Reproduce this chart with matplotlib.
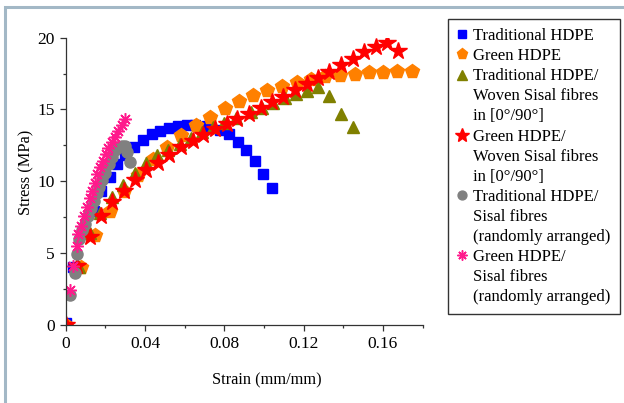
import matplotlib
matplotlib.use('Agg')
import matplotlib.pyplot as plt
from matplotlib.lines import Line2D
from matplotlib.patches import Rectangle
from matplotlib.ticker import MultipleLocator

plt.rcParams['font.family'] = ['Liberation Serif', 'DejaVu Serif']

# Traditional HDPE
trad_x = [0, 0.0035, 0.0143, 0.018, 0.0223, 0.026, 0.030, 0.0346, 0.0388, 0.0434, 0.0476, 0.0522,
          0.0565, 0.061, 0.0652, 0.0711, 0.0778, 0.0825, 0.0867, 0.0909, 0.0955, 0.0996, 0.1042]
trad_y = [0.1, 4.0, 7.9, 9.3, 10.3, 11.2, 11.8, 12.4, 12.88, 13.27, 13.52, 13.73,
          13.85, 13.9, 13.9, 13.85, 13.57, 13.27, 12.75, 12.17, 11.4, 10.5, 9.5]

# Green HDPE
green_x = [0, 0.0077, 0.0148, 0.0223, 0.0294, 0.0367, 0.044, 0.0509, 0.0582, 0.0657, 0.0728, 0.0803,
           0.0873, 0.0946, 0.1017, 0.109, 0.1165, 0.1235, 0.1309, 0.1383, 0.1459, 0.153,
           0.1602, 0.1672, 0.1745]
green_y = [0, 4.0, 6.25, 7.95, 9.3, 10.4, 11.55, 12.4, 13.2, 13.9, 14.5, 15.08,
           15.57, 16.0, 16.35, 16.63, 16.9, 17.15, 17.3, 17.4, 17.5, 17.58,
           17.63, 17.68, 17.7]

# Traditional HDPE / woven sisal
trad_woven_x = [0.0067, 0.0123, 0.0175, 0.0232, 0.029, 0.0348, 0.0405, 0.046, 0.0517, 0.0574,
                0.063, 0.0687, 0.0744, 0.08, 0.0857, 0.0934, 0.099, 0.1047, 0.1106, 0.1162,
                0.1219, 0.1274, 0.133, 0.1387, 0.1447]
trad_woven_y = [4.0, 6.4, 7.8, 8.9, 9.75, 10.6, 11.25, 11.8, 12.2, 12.6,
                13.0, 13.4, 13.75, 14.05, 14.4, 14.8, 15.1, 15.43, 15.78, 16.05,
                16.3, 16.59, 15.96, 14.66, 13.8]

# Green HDPE / woven sisal
green_woven_x = [0, 0.0055, 0.0123, 0.0178, 0.0235, 0.0294, 0.035, 0.0403, 0.0467, 0.0522, 0.0582,
                 0.064, 0.0694, 0.0753, 0.0812, 0.0865, 0.0926, 0.0983, 0.1042, 0.1097, 0.1156,
                 0.1215, 0.1274, 0.133, 0.1388, 0.1447, 0.1506, 0.1565, 0.1619, 0.1677]
green_woven_y = [0, 4.1, 6.13, 7.57, 8.57, 9.34, 10.1, 10.78, 11.3, 11.83, 12.35,
                 12.8, 13.2, 13.65, 14.0, 14.35, 14.7, 15.1, 15.5, 15.9, 16.35,
                 16.75, 17.2, 17.63, 18.1, 18.5, 18.98, 19.37, 19.6, 19.07]

# Traditional HDPE / random sisal
trad_random_x = [0.002, 0.0045, 0.0055, 0.0068, 0.0083, 0.0098, 0.0114, 0.0128, 0.0142, 0.0156,
                 0.017, 0.0185, 0.02, 0.0216, 0.0232, 0.0249, 0.0265, 0.0282, 0.03, 0.0308, 0.0324]
trad_random_y = [2.1, 3.6, 4.9, 6.0, 6.6, 7.0, 7.6, 8.1, 8.6, 9.16,
                 9.6, 10.1, 10.6, 11.2, 11.7, 12.17, 12.4, 12.45, 12.45, 12.06, 11.36]

# Green HDPE / random sisal
green_random_x = [0.002, 0.0035, 0.0055, 0.0064, 0.0078, 0.0093, 0.0108, 0.0122, 0.0135, 0.0148,
                  0.016, 0.0173, 0.0187, 0.0201, 0.0215, 0.0232, 0.0249, 0.0265, 0.0282, 0.03]
green_random_y = [2.4, 4.1, 5.5, 6.3, 6.9, 7.6, 8.2, 8.8, 9.3, 9.9,
                  10.5, 10.97, 11.43, 11.87, 12.3, 12.7, 13.1, 13.5, 13.9, 14.3]

legend_lines = [
    ['Traditional HDPE'],
    ['Green HDPE'],
    ['Traditional HDPE/', 'Woven Sisal fibres', 'in [0°/90°]'],
    ['Green HDPE/', 'Woven Sisal fibres', 'in [0°/90°]'],
    ['Traditional HDPE/', 'Sisal fibres', '(randomly arranged)'],
    ['Green HDPE/', 'Sisal fibres', '(randomly arranged)'],
]

series = [
    (trad_x, trad_y, dict(marker='s', color='#0000ff', ms=7.2)),
    (green_x, green_y, dict(marker='p', color='#ff8000', ms=10)),
    (trad_woven_x, trad_woven_y, dict(marker='^', color='#808000', ms=9)),
    (green_woven_x, green_woven_y, dict(marker='*', color='#ff0000', ms=13)),
    (trad_random_x, trad_random_y, dict(marker='o', color='#808080', ms=8)),
    (green_random_x, green_random_y, dict(marker=(8, 2, 0), color='#ff1a8c', ms=9, mew=1.1)),
]

fig = plt.figure(figsize=(6.24, 4.03), dpi=100)
ax = fig.add_axes([0.1053, 0.1943, 0.5719, 0.7122])

handles = []
labels = []
for (x, y, style), text in zip(series, legend_lines):
    h, = ax.plot(x, y, linestyle='none', mec=style['color'], **style)
    handles.append(h)
    labels.append(text[0])
    for extra in text[1:]:
        handles.append(Line2D([], [], linestyle='none'))
        labels.append(extra)

ax.set_xlim(0, 0.18)
ax.set_ylim(0, 20)
ax.xaxis.set_minor_locator(MultipleLocator(0.02))
ax.yaxis.set_major_locator(MultipleLocator(5))
ax.yaxis.set_minor_locator(MultipleLocator(2.5))
ax.set_xticks([0, 0.04, 0.08, 0.12, 0.16])
ax.set_xticklabels(['0', '0.04', '0.08', '0.12', '0.16'])

for side in ['top', 'right']:
    ax.spines[side].set_visible(False)
for side in ['left', 'bottom']:
    ax.spines[side].set_color('#333333')
    ax.spines[side].set_linewidth(0.9)
ax.tick_params(which='major', length=4, width=0.9, color='#333333', labelsize=12.5, pad=4)
ax.tick_params(which='minor', length=2.2, width=0.9, color='#333333')

ax.set_xlabel('Strain (mm/mm)', fontsize=11.8)
ax.xaxis.set_label_coords(0.563, -0.165)
ax.set_ylabel('Stress (MPa)', fontsize=11.8)
ax.yaxis.set_label_coords(-0.089, 0.53)

leg = fig.legend(handles, labels, loc='upper left', bbox_to_anchor=(448 / 624, 1 - 19 / 403),
                 fontsize=12, frameon=True, fancybox=False, borderaxespad=0,
                 handlelength=0.6, handletextpad=0.35, labelspacing=0.245,
                 borderpad=0.55, markerscale=0.8)
leg.get_frame().set_edgecolor('black')
leg.get_frame().set_linewidth(1.0)

# light frame around the picture
fig.patches.append(Rectangle((5 / 624, -0.05), 1.1, 1 - 7 / 403 + 0.05, transform=fig.transFigure,
                             fill=False, edgecolor='#a3b8c6', linewidth=2.2))

fig.savefig('out.png', dpi=100)
